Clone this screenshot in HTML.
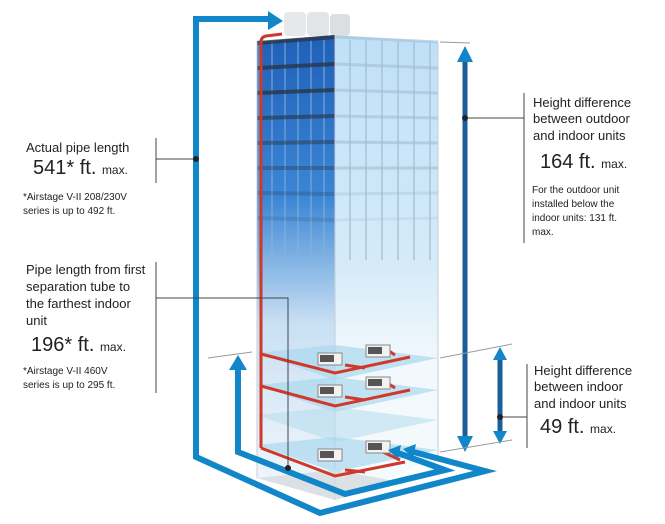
<!DOCTYPE html>
<html><head><meta charset="utf-8"><style>
body{margin:0;background:#fff;width:665px;height:524px;overflow:hidden;font-family:"Liberation Sans",sans-serif;}
svg{display:block}
text{font-family:"Liberation Sans",sans-serif;fill:#222}
</style></head><body>
<svg width="665" height="524" viewBox="0 0 665 524">
<defs>
<linearGradient id="lf" x1="0" y1="0" x2="0" y2="1">
<stop offset="0" stop-color="#1f5fb8"/><stop offset="0.35" stop-color="#3b86d6"/><stop offset="0.62" stop-color="#c9e0f3"/><stop offset="1" stop-color="#f3f8fc"/></linearGradient>
<linearGradient id="rf" x1="0" y1="0" x2="0" y2="1">
<stop offset="0" stop-color="#bfe0f7"/><stop offset="0.5" stop-color="#d6ebf8"/><stop offset="0.7" stop-color="#f2f8fc"/><stop offset="1" stop-color="#f6fafd"/></linearGradient>
<pattern id="win" x="258" y="40" width="13" height="26" patternUnits="userSpaceOnUse"><rect width="13" height="26" fill="none"/><rect x="0" y="0" width="2" height="26" fill="#8bb3d6" opacity=".6"/></pattern>
</defs>
<!-- outdoor units -->
<rect x="284" y="12" width="22" height="24" rx="4" fill="#e6e8ea"/>
<rect x="307" y="12" width="22" height="24" rx="4" fill="#e2e4e6"/>
<rect x="330" y="14" width="20" height="22" rx="4" fill="#dcdfe2"/>
<!-- building -->
<polygon points="257,42 335,35 335,500 257,478" fill="url(#lf)"/>
<polygon points="335,35 438,42 438,458 335,500" fill="url(#rf)"/>
<rect x="257" y="40" width="78" height="220" fill="url(#win)" opacity=".8"/>
<g stroke="#2a3340" stroke-width="4" opacity=".75">
<line x1="257" y1="43" x2="335" y2="37"/><line x1="257" y1="68" x2="335" y2="64"/><line x1="257" y1="93" x2="335" y2="90"/>
<line x1="257" y1="118" x2="335" y2="116" opacity=".8"/><line x1="257" y1="143" x2="335" y2="142" opacity=".6"/><line x1="257" y1="168" x2="335" y2="168" opacity=".45"/><line x1="257" y1="193" x2="335" y2="194" opacity=".3"/><line x1="257" y1="218" x2="335" y2="220" opacity=".2"/></g>
<g stroke="#a8c4da" stroke-width="3" opacity=".7">
<line x1="335" y1="37" x2="438" y2="42"/><line x1="335" y1="64" x2="438" y2="68"/><line x1="335" y1="90" x2="438" y2="93"/><line x1="335" y1="116" x2="438" y2="118"/><line x1="335" y1="142" x2="438" y2="143"/><line x1="335" y1="168" x2="438" y2="168"/><line x1="335" y1="194" x2="438" y2="193" opacity=".6"/><line x1="335" y1="220" x2="438" y2="218" opacity=".4"/></g>
<g stroke="#9fbdd6" stroke-width="2" opacity=".6">
<line x1="350" y1="40" x2="350" y2="260"/><line x1="366" y1="40" x2="366" y2="260"/><line x1="382" y1="41" x2="382" y2="260"/><line x1="398" y1="41" x2="398" y2="260"/><line x1="414" y1="42" x2="414" y2="260"/><line x1="430" y1="42" x2="430" y2="260"/></g>
<g stroke="#c7ced6" stroke-width="1" fill="none">
<line x1="257" y1="42" x2="257" y2="478"/><line x1="335" y1="35" x2="335" y2="500"/><line x1="438" y1="42" x2="438" y2="458"/></g>
<!-- floors -->
<polygon points="257,353 335,345 438,358 335,380" fill="#aad8ee" opacity=".7"/>
<polygon points="257,385 335,377 438,390 335,412" fill="#aad8ee" opacity=".7"/>
<polygon points="257,415 335,407 438,420 335,442" fill="#b8deef" opacity=".6"/>
<polygon points="257,445 335,437 438,450 335,472" fill="#aad8ee" opacity=".7"/>
<polygon points="257,478 335,470 400,482 335,500" fill="#d5dbdf" opacity=".8"/>
<!-- red pipes -->
<g stroke="#d0382a" stroke-width="3" fill="none">
<path d="M282,34 L266,36 Q261,37 261,42 L261,448"/>
<path d="M261,354 L335,373 L410,357"/><path d="M345,365 L365,368 M383,347 L395,355"/>
<path d="M261,386 L335,406 L410,390"/><path d="M345,397 L365,400 M383,380 L395,388"/>
<path d="M261,448 L335,476 L405,462"/><path d="M345,470 L365,472 M383,452 L400,460"/>
</g>
<!-- indoor units -->
<g fill="#f2f2f2" stroke="#888" stroke-width="1">
<rect x="318" y="353" width="24" height="12"/><rect x="366" y="345" width="24" height="12"/>
<rect x="318" y="385" width="24" height="12"/><rect x="366" y="377" width="24" height="12"/>
<rect x="318" y="449" width="24" height="12"/><rect x="366" y="441" width="24" height="12"/></g>
<g fill="#555"><rect x="320" y="355" width="14" height="7"/><rect x="368" y="347" width="14" height="7"/><rect x="320" y="387" width="14" height="7"/><rect x="368" y="379" width="14" height="7"/><rect x="320" y="451" width="14" height="7"/><rect x="368" y="443" width="14" height="7"/></g>
<!-- blue pipes -->
<g stroke="#1186c8" stroke-width="6" fill="none" stroke-linejoin="miter">
<path d="M270,19 L196,19 L196,457 L320,513 L485,471 L410,451"/>
<path d="M238,368 L238,452 L345,494 L445,470 L395,452"/>
</g>
<g fill="#1186c8">
<polygon points="283,21 268,11 268,30"/>
<polygon points="238,355 229,370 247,370"/>
<polygon points="403,449 416,444 413,458"/>
<polygon points="388,450 401,445 398,459"/>
</g>
<!-- height arrows -->
<g stroke="#1a5f9a" stroke-width="5"><line x1="465" y1="60" x2="465" y2="440"/><line x1="500" y1="358" x2="500" y2="434"/></g>
<g fill="#1186c8"><polygon points="465,46 457,62 473,62"/><polygon points="465,452 457,436 473,436"/><polygon points="500,347 493,360 507,360"/><polygon points="500,444 493,431 507,431"/></g>
<g stroke="#999" stroke-width="1"><line x1="440" y1="42" x2="470" y2="43"/><line x1="440" y1="358" x2="512" y2="344"/><line x1="440" y1="452" x2="512" y2="440"/><line x1="208" y1="358" x2="252" y2="352"/></g>
<!-- callout lines -->
<g stroke="#444" stroke-width="1" fill="none">
<line x1="156" y1="138" x2="156" y2="183"/><line x1="156" y1="159" x2="196" y2="159"/>
<line x1="156" y1="262" x2="156" y2="393"/><path d="M156,298 L288,298 L288,468"/>
<line x1="524" y1="93" x2="524" y2="243"/><line x1="465" y1="118" x2="524" y2="118"/>
<line x1="527" y1="364" x2="527" y2="448"/><line x1="500" y1="417" x2="527" y2="417"/>
</g>
<g fill="#222"><circle cx="196" cy="159" r="3"/><circle cx="288" cy="468" r="3"/><circle cx="465" cy="118" r="3"/><circle cx="500" cy="417" r="3"/></g>
<!-- texts -->
<text x="26" y="152" font-size="13">Actual pipe length</text>
<text x="33" y="174" font-size="20">541* ft. <tspan font-size="12">max.</tspan></text>
<text x="23" y="200" font-size="10">*Airstage V-II 208/230V</text>
<text x="23" y="214" font-size="10">series is up to 492 ft.</text>
<text x="26" y="274" font-size="13">Pipe length from first</text>
<text x="26" y="291" font-size="13">separation tube to</text>
<text x="26" y="308" font-size="13">the farthest indoor</text>
<text x="26" y="325" font-size="13">unit</text>
<text x="31" y="351" font-size="20">196* ft. <tspan font-size="12">max.</tspan></text>
<text x="23" y="374" font-size="10">*Airstage V-II 460V</text>
<text x="23" y="388" font-size="10">series is up to 295 ft.</text>
<text x="533" y="107" font-size="13">Height difference</text>
<text x="533" y="123" font-size="13">between outdoor</text>
<text x="533" y="140" font-size="13">and indoor units</text>
<text x="540" y="168" font-size="20">164 ft. <tspan font-size="12">max.</tspan></text>
<text x="532" y="193" font-size="10">For the outdoor unit</text>
<text x="532" y="207" font-size="10">installed below the</text>
<text x="532" y="221" font-size="10">indoor units: 131 ft.</text>
<text x="532" y="235" font-size="10">max.</text>
<text x="534" y="375" font-size="13">Height difference</text>
<text x="534" y="391" font-size="13">between indoor</text>
<text x="534" y="408" font-size="13">and indoor units</text>
<text x="540" y="433" font-size="20">49 ft. <tspan font-size="12">max.</tspan></text>
</svg>
</body></html>
